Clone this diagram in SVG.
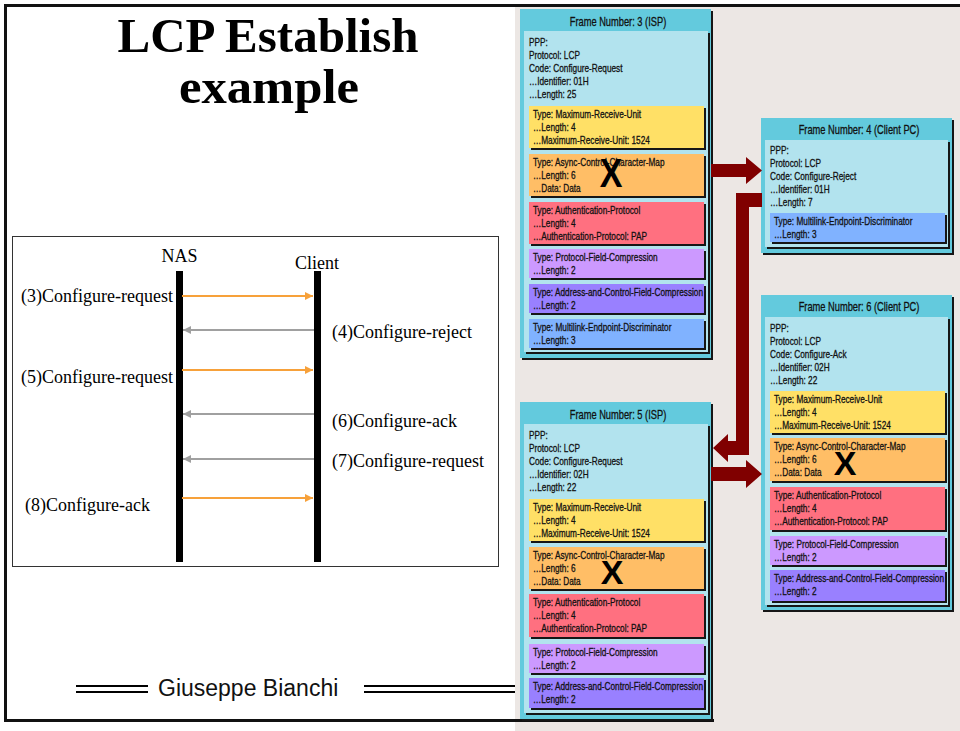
<svg xmlns="http://www.w3.org/2000/svg" width="960" height="731" viewBox="0 0 960 731">
  <style>
    .serif { font-family: "Liberation Serif", "Times New Roman", serif; fill: #000; }
    .title { font-size: 49px; font-weight: bold; text-anchor: middle; }
    .seq { font-size: 18px; }
    .sans { font-family: "Liberation Sans", Arial, sans-serif; }
    .outer { fill: #63CADD; }
    .inner { fill: #B2E3EE; }
    .mru { fill: #FFE066; }
    .accm { fill: #FFBE66; }
    .auth { fill: #FF7080; }
    .pfc { fill: #CC99FF; }
    .acfc { fill: #9980FF; }
    .med { fill: #80B2FF; }
    .fh { font-family: "Liberation Sans", Arial, sans-serif; font-size: 12px; fill: #111; stroke: #111; stroke-width: 0.3; text-anchor: middle; }
    .fb text { font-family: "Liberation Sans", Arial, sans-serif; font-size: 11px; fill: #111; stroke: #111; stroke-width: 0.3; }
    .xmark { font-family: "Liberation Sans", Arial, sans-serif; font-weight: bold; fill: #000; text-anchor: middle; }
    .msg-out { stroke: #F7A13A; stroke-width: 2; fill: none; marker-end: url(#ah-orange); }
    .msg-in { stroke: #A0A0A0; stroke-width: 2; fill: none; marker-end: url(#ah-gray); }
    .block { fill: #800000; }
  </style>
  <defs>
    <filter id="sh" x="-5%" y="-5%" width="115%" height="115%">
      <feOffset in="SourceAlpha" dx="2" dy="2" result="off"/>
      <feFlood flood-color="#141414"/>
      <feComposite in2="off" operator="in" result="shadow"/>
      <feMerge>
        <feMergeNode in="shadow"/>
        <feMergeNode in="SourceGraphic"/>
      </feMerge>
    </filter>
    <marker id="ah-orange" markerUnits="userSpaceOnUse" markerWidth="9" markerHeight="9" refX="8" refY="4" orient="auto">
      <path d="M0,0 L8,4 L0,8 Z" fill="#F7A13A"/>
    </marker>
    <marker id="ah-gray" markerUnits="userSpaceOnUse" markerWidth="9" markerHeight="9" refX="8" refY="4" orient="auto">
      <path d="M0,0 L8,4 L0,8 Z" fill="#A0A0A0"/>
    </marker>
  </defs>

  <!-- page -->
  <rect x="0" y="0" width="960" height="731" fill="#fff"/>
  <rect x="515" y="6" width="445" height="725" fill="#ECE7E4"/>
  <g fill="#111">
    <rect x="4" y="4" width="956" height="3"/>
    <rect x="4" y="4" width="3" height="718"/>
    <rect x="4" y="719" width="710" height="3"/>
  </g>

  <!-- title -->
  <g id="title" class="serif title">
    <text x="268" y="52">LCP Establish</text>
    <text x="269" y="103" textLength="180" lengthAdjust="spacingAndGlyphs">example</text>
  </g>

  <!-- message sequence -->
  <g id="sequence">
    <rect x="12.5" y="236.5" width="486" height="330" fill="#fff" stroke="#333" stroke-width="1"/>
    <g id="nas">
      <text class="serif seq" x="179.5" y="262" text-anchor="middle">NAS</text>
      <rect x="176" y="271" width="7" height="291" fill="#000"/>
    </g>
    <g id="client">
      <text class="serif seq" x="317" y="269" text-anchor="middle">Client</text>
      <rect x="314" y="271" width="7" height="291" fill="#000"/>
    </g>
    <g class="serif seq">
      <text x="21" y="302">(3)Configure-request</text>
      <text x="332" y="338">(4)Configure-reject</text>
      <text x="21" y="383">(5)Configure-request</text>
      <text x="332" y="427">(6)Configure-ack</text>
      <text x="332" y="467">(7)Configure-request</text>
      <text x="25" y="511">(8)Configure-ack</text>
    </g>
  </g>

  <g id="messages">
    <path class="msg-out" d="M182,296 H313"/>
    <path class="msg-in" d="M314,330 H183"/>
    <path class="msg-out" d="M182,370 H313"/>
    <path class="msg-in" d="M314,414 H183"/>
    <path class="msg-in" d="M314,459 H183"/>
    <path class="msg-out" d="M182,498 H313"/>
  </g>

  <!-- footer -->
  <g id="footer">
    <g fill="#000">
      <rect x="76" y="685" width="72" height="2"/>
      <rect x="76" y="691" width="72" height="2"/>
      <rect x="364" y="685" width="151" height="2"/>
      <rect x="364" y="691" width="151" height="2"/>
    </g>
    <text class="sans" x="158" y="696" font-size="23" fill="#111">Giuseppe Bianchi</text>
  </g>

  <!-- Frame 3: ISP configure-request -->
  <g id="frame3">
    <rect class="outer" x="520" y="9" width="191" height="349" filter="url(#sh)"/>
    <rect class="inner" x="524" y="31" width="184" height="321" filter="url(#sh)"/>
    <rect class="mru" x="529" y="106" width="175" height="42" filter="url(#sh)"/>
    <rect class="accm" x="529" y="154" width="175" height="42" filter="url(#sh)"/>
    <rect class="auth" x="529" y="202" width="175" height="42" filter="url(#sh)"/>
    <rect class="pfc" x="529" y="249" width="175" height="29" filter="url(#sh)"/>
    <rect class="acfc" x="529" y="284" width="175" height="29" filter="url(#sh)"/>
    <rect class="med" x="529" y="319" width="175" height="29" filter="url(#sh)"/>
    <text class="fh" transform="translate(618,26) scale(0.775,1)">Frame Number: 3 (ISP)</text>
    <g class="fb" transform="translate(529,0) scale(0.75,1)">
      <text y="46.5">PPP:</text>
      <text y="59.5">Protocol: LCP</text>
      <text y="72.5">Code: Configure-Request</text>
      <text y="85.5">…Identifier: 01H</text>
      <text y="98.5">…Length: 25</text>
      <text x="5.33" y="118">Type: Maximum-Receive-Unit</text>
      <text x="5.33" y="131">…Length: 4</text>
      <text x="5.33" y="144">…Maximum-Receive-Unit: 1524</text>
      <text x="5.33" y="166">Type: Async-Control-Character-Map</text>
      <text x="5.33" y="179">…Length: 6</text>
      <text x="5.33" y="192">…Data: Data</text>
      <text x="5.33" y="214">Type: Authentication-Protocol</text>
      <text x="5.33" y="227">…Length: 4</text>
      <text x="5.33" y="240">…Authentication-Protocol: PAP</text>
      <text x="5.33" y="261.5">Type: Protocol-Field-Compression</text>
      <text x="5.33" y="274">…Length: 2</text>
      <text x="5.33" y="296.5">Type: Address-and-Control-Field-Compression</text>
      <text x="5.33" y="309">…Length: 2</text>
      <text x="5.33" y="331.5">Type: Multilink-Endpoint-Discriminator</text>
      <text x="5.33" y="344">…Length: 3</text>
    </g>
    <text class="xmark" font-size="40" transform="translate(611,187) scale(0.85,1)">X</text>
  </g>

  <!-- Frame 4: client configure-reject -->
  <g id="frame4">
    <rect class="outer" x="761" y="118" width="191" height="135" filter="url(#sh)"/>
    <rect class="inner" x="765" y="140" width="183" height="107" filter="url(#sh)"/>
    <rect class="med" x="770" y="213" width="175" height="29" filter="url(#sh)"/>
    <text class="fh" transform="translate(859,134) scale(0.775,1)">Frame Number: 4 (Client PC)</text>
    <g class="fb" transform="translate(770,0) scale(0.75,1)">
      <text y="154.5">PPP:</text>
      <text y="167.5">Protocol: LCP</text>
      <text y="180.5">Code: Configure-Reject</text>
      <text y="193.5">…Identifier: 01H</text>
      <text y="206.5">…Length: 7</text>
      <text x="5.33" y="225.5">Type: Multilink-Endpoint-Discriminator</text>
      <text x="5.33" y="238">…Length: 3</text>
    </g>
  </g>

  <!-- Frame 5: ISP configure-request (retry) -->
  <g id="frame5">
    <rect class="outer" x="520" y="402" width="191" height="317" filter="url(#sh)"/>
    <rect class="inner" x="524" y="424" width="184" height="289" filter="url(#sh)"/>
    <rect class="mru" x="529" y="499" width="175" height="42" filter="url(#sh)"/>
    <rect class="accm" x="529" y="547" width="175" height="42" filter="url(#sh)"/>
    <rect class="auth" x="529" y="594" width="175" height="43" filter="url(#sh)"/>
    <rect class="pfc" x="529" y="644" width="175" height="29" filter="url(#sh)"/>
    <rect class="acfc" x="529" y="678" width="175" height="30" filter="url(#sh)"/>
    <text class="fh" transform="translate(618,418.5) scale(0.775,1)">Frame Number: 5 (ISP)</text>
    <g class="fb" transform="translate(529,0) scale(0.75,1)">
      <text y="439.5">PPP:</text>
      <text y="452.5">Protocol: LCP</text>
      <text y="465.5">Code: Configure-Request</text>
      <text y="478.5">…Identifier: 02H</text>
      <text y="491.5">…Length: 22</text>
      <text x="5.33" y="511">Type: Maximum-Receive-Unit</text>
      <text x="5.33" y="524">…Length: 4</text>
      <text x="5.33" y="537">…Maximum-Receive-Unit: 1524</text>
      <text x="5.33" y="559">Type: Async-Control-Character-Map</text>
      <text x="5.33" y="572">…Length: 6</text>
      <text x="5.33" y="585">…Data: Data</text>
      <text x="5.33" y="606">Type: Authentication-Protocol</text>
      <text x="5.33" y="619">…Length: 4</text>
      <text x="5.33" y="632">…Authentication-Protocol: PAP</text>
      <text x="5.33" y="656.5">Type: Protocol-Field-Compression</text>
      <text x="5.33" y="669">…Length: 2</text>
      <text x="5.33" y="690.5">Type: Address-and-Control-Field-Compression</text>
      <text x="5.33" y="703">…Length: 2</text>
    </g>
    <text class="xmark" font-size="34" x="612" y="584">X</text>
  </g>

  <!-- Frame 6: client configure-ack -->
  <g id="frame6">
    <rect class="outer" x="761" y="295" width="191" height="315" filter="url(#sh)"/>
    <rect class="inner" x="765" y="317" width="183" height="288" filter="url(#sh)"/>
    <rect class="mru" x="770" y="391" width="175" height="42" filter="url(#sh)"/>
    <rect class="accm" x="770" y="438" width="175" height="43" filter="url(#sh)"/>
    <rect class="auth" x="770" y="487" width="175" height="43" filter="url(#sh)"/>
    <rect class="pfc" x="770" y="536" width="175" height="29" filter="url(#sh)"/>
    <rect class="acfc" x="770" y="570" width="175" height="31" filter="url(#sh)"/>
    <text class="fh" transform="translate(859,311) scale(0.775,1)">Frame Number: 6 (Client PC)</text>
    <g class="fb" transform="translate(770,0) scale(0.75,1)">
      <text y="332.5">PPP:</text>
      <text y="345.3">Protocol: LCP</text>
      <text y="358.1">Code: Configure-Ack</text>
      <text y="370.9">…Identifier: 02H</text>
      <text y="383.7">…Length: 22</text>
      <text x="5.33" y="403">Type: Maximum-Receive-Unit</text>
      <text x="5.33" y="416">…Length: 4</text>
      <text x="5.33" y="429">…Maximum-Receive-Unit: 1524</text>
      <text x="5.33" y="450">Type: Async-Control-Character-Map</text>
      <text x="5.33" y="463">…Length: 6</text>
      <text x="5.33" y="476">…Data: Data</text>
      <text x="5.33" y="499">Type: Authentication-Protocol</text>
      <text x="5.33" y="512">…Length: 4</text>
      <text x="5.33" y="525">…Authentication-Protocol: PAP</text>
      <text x="5.33" y="548.5">Type: Protocol-Field-Compression</text>
      <text x="5.33" y="561">…Length: 2</text>
      <text x="5.33" y="582.5">Type: Address-and-Control-Field-Compression</text>
      <text x="5.33" y="595">…Length: 2</text>
    </g>
    <text class="xmark" font-size="34" x="845" y="475">X</text>
  </g>

  <!-- frame-to-frame flow arrows -->
  <g id="flow">
    <path class="block" d="M711,164 H746 V157 L762,170.5 L746,184 V177 H711 Z"/>
    <path class="block" d="M762,193 H736 V441 H728 V434 L713,448 L728,462 V455 H749 V207 H762 Z"/>
    <path class="block" d="M711,467 H746 V460 L762,474 L746,488 V481 H711 Z"/>
  </g>
</svg>
